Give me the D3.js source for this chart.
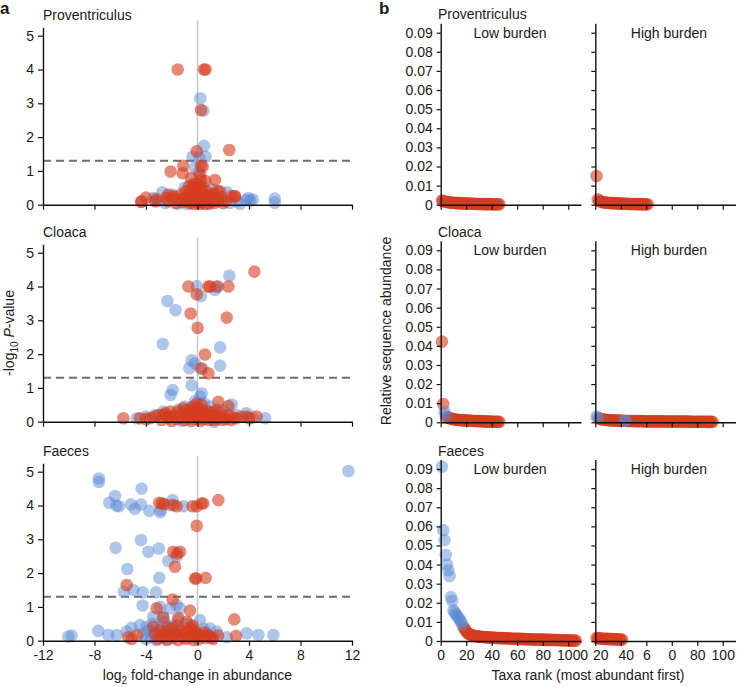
<!DOCTYPE html>
<html><head><meta charset="utf-8">
<script src="https://cdn.jsdelivr.net/npm/d3@7"></script>
<style>body{margin:0;background:#fff} text{font-family:"Liberation Sans",Arial,sans-serif;fill:#1a1a1a}</style>
</head><body><svg id="c" width="738" height="687"></svg>
<script>
// ---------- DATA ----------
const tissues = ["Proventriculus", "Cloaca", "Faeces"];
const volcanoXTicks = [-12, -8, -4, 0, 4, 8, 12];
const volcanoYTicks = [0, 1, 2, 3, 4, 5];
const sigThreshold = 1.3;

// [log2 fold-change, -log10 P]
const provBlue = [[0.22,3.15],[0.45,2.78],[0.5,1.74],[-0.38,1.42],[0.63,1.42],[0.14,1.40],[-0.19,1.08],[0.1,0.95],[-0.3,0.6],[0.4,0.55],
  [-2.73,0.37],[2.3,0.37],[-3.43,0.2],[-3.1,0.1],[3.8,0.14],[3.95,0.2],[4.1,0.12],[4.3,0.15],[3.3,0.03],[3.04,0.1],[6.0,0.18],[6.0,0.06],
  [-1.5,0.03],[-2.0,0.3],[1.9,0.25],[1.2,0.45],[-1.0,0.5],[-0.8,0.02],[0.9,0.02],[2.5,0.05],[-2.5,0.05]];
const provRed = [[-1.54,4.0],[0.5,4.0],[0.63,4.0],[0.27,2.8],[2.47,1.62],[-0.06,1.58],[0.27,1.15],[-1.1,1.15],[0.4,1.12],[-2.09,0.98],
  [-1.15,0.93],[0.19,0.88],[-0.5,0.78],[1.36,0.73],[0.27,0.73],[0.6,0.7],
  [-4.33,0.1],[-4.0,0.21],[-4.37,0.08],[-3.2,0.17],[-3.3,0.1],[-2.3,0.1],[-1.93,0.2],[-2.4,0.2],[-2.3,0.29],
  [2.65,0.25],[2.91,0.25],[1.75,0.4],[2.9,0.25],[1.55,0.4],[2.2,0.1],
  [-1.7,0.05],[-1.5,0.15],[-1.3,0.3],[-1.2,0.08],[-1.0,0.2],[-0.9,0.4],[-0.8,0.1],[-0.7,0.28],[-0.6,0.05],[-0.5,0.45],[-0.45,0.18],
  [-0.35,0.32],[-0.3,0.02],[-0.2,0.12],[-0.15,0.5],[-0.1,0.25],[0,0.05],[0,0.38],[0.05,0.6],[0.1,0.15],[0.15,0.3],[0.2,0.02],[0.25,0.45],
  [0.3,0.2],[0.35,0.08],[0.4,0.35],[0.5,0.12],[0.55,0.25],[0.6,0.02],[0.7,0.4],[0.75,0.15],[0.85,0.28],[0.9,0.05],[1.0,0.2],[1.1,0.1],
  [1.2,0.32],[1.3,0.05],[1.45,0.18],[1.6,0.1],[1.8,0.22],[2.0,0.05],[-1.8,0.25],[-0.25,0.6],[0.3,0.52],[-0.65,0.55]];
const cloacaBlue = [[2.47,4.32],[-0.06,4.01],[0.27,3.72],[1.36,3.9],[1.62,4.0],[-2.34,3.57],[-1.7,3.3],[-2.7,2.3],[1.75,2.2],[-0.45,1.82],
  [-0.19,1.73],[-0.63,1.58],[1.75,1.66],[0.37,1.56],[-0.45,1.08],[-1.93,0.94],[-2.09,0.79],[0.32,0.84],[0.19,0.74],[2.66,0.51],[-0.2,0.6],
  [0.5,0.55],[-1.0,0.45],[1.0,0.45],[-4.73,0.1],[-3.3,0.2],[-2.66,0.3],[5.25,0.1],[3.82,0.25],[4.3,0.12],[-4.0,0.15],[3.0,0.2],[-1.5,0.35],
  [0.9,0.3],[-0.5,0.4],[2.0,0.35],[-1.2,0.02],[1.3,0.0]];
const cloacaRed = [[4.42,4.44],[-0.71,4.0],[-0.06,3.77],[0.84,4.0],[0.97,4.0],[1.49,4.0],[2.4,4.0],[-0.53,3.2],[2.27,3.08],[0.01,2.78],
  [0.58,1.99],[0.27,1.58],[0.84,1.43],[1.62,0.59],[2.4,0.46],[-0.06,0.54],
  [-5.76,0.1],[-4.47,0.1],[-3.69,0.1],[-2.6,0.2],[-4.0,0.08],[-3.3,0.15],[4.6,0.15],[3.82,0.15],[3.43,0.15],[3.0,0.1],[4.0,0.1],
  [-3.0,0.2],[-2.8,0.05],[-2.5,0.25],[-2.3,0.1],[-2.1,0.3],[-2.0,0.02],[-1.8,0.18],[-1.6,0.08],[-1.5,0.3],[-1.3,0.12],[-1.2,0.25],
  [-1.0,0.05],[-0.9,0.2],[-0.8,0.35],[-0.7,0.1],[-0.6,0.28],[-0.5,0.02],[-0.4,0.15],[-0.3,0.3],[-0.2,0.08],[-0.1,0.22],[0,0.4],[0.05,0.1],
  [0.15,0.3],[0.2,0.02],[0.3,0.18],[0.4,0.35],[0.5,0.08],[0.6,0.25],[0.7,0.12],[0.8,0.3],[0.9,0.05],[1.0,0.2],[1.1,0.1],[1.2,0.28],
  [1.3,0.05],[1.4,0.18],[1.6,0.1],[1.7,0.25],[1.9,0.05],[2.0,0.15],[2.2,0.08],[2.4,0.2],[2.6,0.05],[2.8,0.12],[-1.1,0.4],[0.3,0.5],
  [-0.35,0.45],[1.5,0.35],[-2.2,0.15]];
const faecesBlue = [[11.72,5.02],[-7.66,4.8],[-7.66,4.7],[-4.34,4.5],[-6.41,4.28],[-6.85,4.08],[-6.1,3.98],[-6.3,4.0],[-5.17,4.03],[-4.86,3.9],
  [-4.39,4.03],[-3.74,3.84],[-2.91,3.8],[-2.85,3.87],[-1.93,4.16],[-2.14,4.01],[-1.1,3.98],[-6.36,2.75],[-4.39,2.98],[-3.82,2.63],
  [-3.0,2.73],[-2.27,2.36],[-1.62,2.49],[-5.45,2.12],[-2.97,1.86],[-5.71,1.45],[-4.99,1.5],[-4.26,1.43],[-3.22,1.43],[-4.26,1.04],
  [-2.91,1.0],[-2.14,0.96],[-1.62,1.06],[-1.36,0.96],[0.19,0.61],[-2.66,0.71],[-3.43,0.71],
  [-10.04,0.12],[-9.78,0.15],[-7.7,0.29],[-6.93,0.17],[-6.28,0.17],[-5.5,0.27],[-5.12,0.38],[-4.47,0.46],[-3.95,0.41],[3.82,0.22],
  [4.73,0.17],[5.89,0.17],[0.97,0.36],[1.49,0.27],[2.27,0.1],
  [-4.2,0.2],[-4.0,0.05],[-3.8,0.3],[-3.6,0.1],[-3.5,0.5],[-3.3,0.25],[-3.2,0.02],[-3.0,0.4],[-2.8,0.15],[-2.6,0.55],[-2.5,0.3],
  [-2.3,0.05],[-2.0,0.45],[-1.8,0.2],[-1.5,0.6],[-1.2,0.35],[-1.0,0.1],[-0.7,0.5],[-0.4,0.3],[0.5,0.35],[0.8,0.15],[1.2,0.1]];
const faecesRed = [[-2.97,4.08],[-2.6,4.04],[-2.75,4.06],[-1.88,4.01],[-1.62,3.98],[-0.38,3.98],[-0.06,3.98],[0.32,4.06],[0.45,4.06],
  [1.62,4.16],[-0.06,3.4],[-1.88,2.63],[-1.36,2.63],[-1.57,2.58],[-1.75,2.19],[-0.19,1.84],[0.63,1.86],[-0.1,1.84],[-5.5,1.65],
  [-1.93,1.22],[-3.17,0.96],[-0.58,0.89],[-1.49,0.68],[-2.66,0.68],[-0.84,0.56],[-0.38,0.44],[2.86,0.63],[2.99,0.14],
  [-5.38,0.1],[-4.68,0.17],[-3.43,0.41],[-5.1,0.05],[1.6,0.15],
  [-3.3,0.2],[-3.1,0.05],[-2.9,0.3],[-2.7,0.1],[-2.5,0.25],[-2.4,0.02],[-2.2,0.15],[-2.0,0.35],[-1.9,0.08],[-1.7,0.2],[-1.5,0.02],
  [-1.4,0.3],[-1.2,0.12],[-1.0,0.22],[-0.9,0.05],[-0.7,0.3],[-0.6,0.1],[-0.4,0.2],[-0.3,0.02],[-0.2,0.28],[-0.1,0.12],[0,0.2],
  [0.1,0.05],[0.3,0.15],[0.5,0.25],[0.6,0.08],[0.8,0.18],[1.0,0.1],[1.2,0.05],[-1.6,0.45],[-2.3,0.4],[-0.5,0.4]];

// Rank-abundance (values listed by rank 1..N)
const rankXTicks = [0, 20, 40, 60, 80, 100, 112];
const rankXLabelsLow = ["0", "20", "40", "60", "80", "100", "0"];
const rankXTicksHigh = [0, 20, 40, 60, 80, 100];
const rankXLabelsHigh = ["20", "40", "6", "0", "80", "100"];
const abundanceTicks = [0, 0.01, 0.02, 0.03, 0.04, 0.05, 0.06, 0.07, 0.08, 0.09];
const burdenGroups = ["Low burden", "High burden"];

const provLow = [0.0022,0.0019,0.0017,0.0015,0.0014,0.0013,0.0012,0.0011,0.0010,0.0010,0.0009,0.0009,0.0008,0.0008,0.0008,0.0007,
  0.0007,0.0007,0.0006,0.0006,0.0006,0.0006,0.0005,0.0005,0.0005,0.0005,0.0005,0.0004,0.0004,0.0004,0.0004,0.0004,0.0004,0.0003,
  0.0003,0.0003,0.0003,0.0003,0.0003,0.0003,0.0002,0.0002,0.0002,0.0002,0.0002,0.0002];
const provLowBlue = [];
const provHigh = [0.0150,0.0028,0.0021,0.0017,0.0015,0.0013,0.0012,0.0011,0.0010,0.0010,0.0009,0.0009,0.0008,0.0008,0.0008,0.0007,
  0.0007,0.0007,0.0006,0.0006,0.0006,0.0005,0.0005,0.0005,0.0005,0.0004,0.0004,0.0004,0.0004,0.0004,0.0003,0.0003,0.0003,0.0003,
  0.0003,0.0003,0.0002,0.0002,0.0002,0.0002,0.0002];
const provHighBlue = [];
const cloacaLow = [0.0422,0.0096,0.0055,0.0035,0.0028,0.0024,0.0021,0.0019,0.0017,0.0016,0.0015,0.0014,0.0013,0.0012,0.0012,0.0011,
  0.0011,0.0010,0.0010,0.0009,0.0009,0.0009,0.0008,0.0008,0.0008,0.0007,0.0007,0.0007,0.0006,0.0006,0.0006,0.0006,0.0005,0.0005,
  0.0005,0.0005,0.0004,0.0004,0.0004,0.0004,0.0003,0.0003,0.0003,0.0003,0.0002,0.0002];
const cloacaLowBlue = [3, 4];
const cloacaHigh = [0.0030,0.0025,0.0020,0.0018,0.0016,0.0015,0.0014,0.0013,0.0012,0.0012,
  0.0011,0.0011,0.0010,0.0010,0.0010,0.0009,0.0009,0.0009,0.0009,0.0008,0.0008,0.0008,0.0008,0.0008,0.0007,0.0007,0.0007,0.0007,0.0007,0.0007,
  0.0006,0.0006,0.0006,0.0006,0.0006,0.0006,0.0006,0.0006,0.0005,0.0005,0.0005,0.0005,0.0005,0.0005,0.0005,0.0005,0.0005,0.0005,0.0005,0.0005,
  0.0005,0.0005,0.0005,0.0005,0.0004,0.0004,0.0004,0.0004,0.0004,0.0004,0.0004,0.0004,0.0004,0.0004,0.0004,0.0004,0.0004,0.0004,0.0004,0.0004,
  0.0004,0.0004,0.0004,0.0004,0.0003,0.0003,0.0003,0.0003,0.0003,0.0003,0.0003,0.0003,0.0003,0.0003,0.0003,0.0003,0.0002,0.0002,0.0002,0.0002,
  0.0002,0.0002];
const cloacaHighBlue = [1, 2, 23, 24];
const faecesLow = [0.0912,0.0580,0.0528,0.0450,0.0400,0.0370,0.0340,0.0230,0.0210,0.0160,0.0150,0.0140,0.0130,0.0120,0.0110,0.0100,0.0085,
  0.0072,0.0060,0.0050,0.0043,0.0038,0.0034,0.0031,0.0029,0.0027,0.0026,0.0025,0.0024,0.0023,
  0.0022,0.0022,0.0021,0.0021,0.0020,0.0020,0.0019,0.0019,0.0018,0.0018,0.0017,0.0017,0.0017,0.0016,0.0016,0.0016,0.0015,0.0015,0.0015,0.0014,
  0.0014,0.0014,0.0013,0.0013,0.0013,0.0012,0.0012,0.0012,0.0012,0.0011,0.0011,0.0011,0.0011,0.0010,0.0010,0.0010,0.0010,0.0009,0.0009,0.0009,
  0.0009,0.0008,0.0008,0.0008,0.0008,0.0008,0.0007,0.0007,0.0007,0.0007,0.0007,0.0006,0.0006,0.0006,0.0006,0.0006,0.0006,0.0005,0.0005,0.0005,
  0.0005,0.0005,0.0005,0.0004,0.0004,0.0004,0.0004,0.0004,0.0004,0.0003,0.0003,0.0003,0.0003,0.0003,0.0002,0.0002];
const faecesLowBlue = [1,2,3,4,5,6,7,8,9,10,11,12,13,14,15,16,17];
const faecesHigh = [0.0016,0.0015,0.0014,0.0013,0.0013,0.0012,0.0012,0.0011,0.0011,0.0011,0.0010,0.0010,0.0010,0.0009,0.0009,0.0009,
  0.0009,0.0008,0.0008,0.0008,0.0008];
const faecesHighBlue = [];

// ---------- DRAWING ----------
const svg = d3.select("#c");
const BLUE = "rgb(88,136,214)", RED = "rgb(214,60,30)";
const BLUE_OP = 0.48, RED_OP = 0.6, R = 6.3;
const FS = 14;

const volcano = [
  {name: tissues[0], base: 204.7, blue: provBlue, red: provRed},
  {name: tissues[1], base: 421.7, blue: cloacaBlue, red: cloacaRed},
  {name: tissues[2], base: 640.7, blue: faecesBlue, red: faecesRed}
];
const rankPanels = [
  {name: tissues[0], base: 204.7, low: provLow, lowBlue: provLowBlue, high: provHigh, highBlue: provHighBlue},
  {name: tissues[1], base: 422.3, low: cloacaLow, lowBlue: cloacaLowBlue, high: cloacaHigh, highBlue: cloacaHighBlue},
  {name: tissues[2], base: 641.0, low: faecesLow, lowBlue: faecesLowBlue, high: faecesHigh, highBlue: faecesHighBlue}
];

const xA = d3.scaleLinear().domain([-12, 12]).range([43, 352]);
const yUnit = 33.8;

function styleAxis(g) {
  g.selectAll("path.domain").attr("stroke", "#111").attr("stroke-width", 1.4);
  g.selectAll(".tick line").attr("stroke", "#111").attr("stroke-width", 1.2);
  g.selectAll(".tick text").attr("font-size", FS).attr("fill", "#1a1a1a")
    .attr("font-family", '"Liberation Sans", Arial, sans-serif');
}

volcano.forEach((p, i) => {
  const y = d3.scaleLinear().domain([0, 5.25]).range([p.base, p.base - 5.25 * yUnit]);
  const g = svg.append("g");
  g.append("line").attr("x1", xA(0)).attr("x2", xA(0)).attr("y1", y(5.45)).attr("y2", y(0))
    .attr("stroke", "#c9c9c9").attr("stroke-width", 1.6);
  g.append("line").attr("x1", xA(-12)).attr("x2", xA(12)).attr("y1", y(sigThreshold)).attr("y2", y(sigThreshold))
    .attr("stroke", "#6e6e6e").attr("stroke-width", 2).attr("stroke-dasharray", "8,5");
  g.append("g").selectAll("circle").data(p.blue).join("circle")
    .attr("cx", d => xA(d[0])).attr("cy", d => y(d[1])).attr("r", R)
    .attr("fill", BLUE).attr("fill-opacity", BLUE_OP);
  g.append("g").selectAll("circle").data(p.red).join("circle")
    .attr("cx", d => xA(d[0])).attr("cy", d => y(d[1])).attr("r", R)
    .attr("fill", RED).attr("fill-opacity", RED_OP);
  const ya = g.append("g").attr("transform", `translate(${xA(-12)},0)`)
    .call(d3.axisLeft(y).tickValues(volcanoYTicks).tickSize(5).tickPadding(4).tickSizeOuter(0).tickFormat(d => String(d)));
  styleAxis(ya);
  const xa = g.append("g").attr("transform", `translate(0,${p.base})`)
    .call(d3.axisBottom(xA).tickValues(volcanoXTicks).tickSize(5).tickPadding(4).tickSizeOuter(0)
      .tickFormat(d => i === 2 ? String(d) : ""));
  styleAxis(xa);
  g.append("text").attr("x", 43).attr("y", p.base - 184.5).attr("font-size", FS).text(p.name);
});

svg.append("text").attr("x", 0).attr("y", 14).attr("font-size", 17).attr("font-weight", "bold").text("a");
const axA = svg.append("text").attr("font-size", FS).attr("text-anchor", "middle")
  .attr("transform", "translate(14,333) rotate(-90)");
axA.append("tspan").text("-log");
axA.append("tspan").attr("font-size", 10).attr("dy", 4).text("10");
axA.append("tspan").attr("dy", -4).text(" ");
axA.append("tspan").attr("font-style", "italic").text("P");
axA.append("tspan").text("-value");
const xt = svg.append("text").attr("x", xA(0)).attr("y", 680).attr("font-size", FS).attr("text-anchor", "middle");
xt.append("tspan").text("log");
xt.append("tspan").attr("font-size", 10).attr("dy", 4).text("2");
xt.append("tspan").attr("dy", -4).text(" fold-change in abundance");

const xLow = d3.scaleLinear().domain([0, 110]).range([440.7, 581]);
const xHigh = d3.scaleLinear().domain([0, 110]).range([595.3, 735.5]);
const bUnit = 1911;
rankPanels.forEach((p, i) => {
  const y = d3.scaleLinear().domain([0, 0.095]).range([p.base, p.base - 0.095 * bUnit]);
  const g = svg.append("g");
  [[p.low, p.lowBlue, xLow], [p.high, p.highBlue, xHigh]].forEach(([vals, blueRanks, xs]) => {
    const pts = vals.map((v, k) => ({rank: k + 1, v, blue: blueRanks.includes(k + 1)}));
    g.append("g").selectAll("circle").data(pts.filter(d => !d.blue)).join("circle")
      .attr("cx", d => xs(d.rank)).attr("cy", d => y(d.v)).attr("r", R)
      .attr("fill", RED).attr("fill-opacity", RED_OP);
    g.append("g").selectAll("circle").data(pts.filter(d => d.blue)).join("circle")
      .attr("cx", d => xs(d.rank)).attr("cy", d => y(d.v)).attr("r", R)
      .attr("fill", BLUE).attr("fill-opacity", BLUE_OP);
  });
  const yl = g.append("g").attr("transform", `translate(${xLow(0)},0)`)
    .call(d3.axisLeft(y).tickValues(abundanceTicks).tickSize(4).tickPadding(4).tickSizeOuter(0)
      .tickFormat(d => d === 0 ? "0" : d.toFixed(2)));
  styleAxis(yl);
  const yr = g.append("g").attr("transform", `translate(${xHigh(0)},0)`)
    .call(d3.axisLeft(y).tickValues(abundanceTicks).tickSize(4).tickSizeOuter(0).tickFormat(""));
  styleAxis(yr);
  const xl = g.append("g").attr("transform", `translate(0,${p.base})`)
    .call(d3.axisBottom(xLow).tickValues(rankXTicks).tickSize(5).tickPadding(4).tickSizeOuter(0)
      .tickFormat((d, k) => i === 2 ? rankXLabelsLow[k] : ""));
  styleAxis(xl);
  xl.selectAll(".tick").filter(d => d === 112).select("line").remove();
  const xh = g.append("g").attr("transform", `translate(0,${p.base})`)
    .call(d3.axisBottom(xHigh).tickValues(rankXTicksHigh).tickSize(5).tickPadding(4).tickSizeOuter(0)
      .tickFormat((d, k) => i === 2 ? rankXLabelsHigh[k] : ""));
  styleAxis(xh);
  xh.selectAll(".tick text").filter(d => d <= 20).attr("dx", 5);
  g.append("text").attr("x", 438).attr("y", p.base - 185.5).attr("font-size", FS).text(p.name);
  g.append("text").attr("x", 510).attr("y", p.base - 167).attr("font-size", FS).attr("text-anchor", "middle").text(burdenGroups[0]);
  g.append("text").attr("x", 669).attr("y", p.base - 167).attr("font-size", FS).attr("text-anchor", "middle").text(burdenGroups[1]);
});
svg.append("text").attr("x", 379).attr("y", 14).attr("font-size", 17).attr("font-weight", "bold").text("b");
svg.append("text").attr("font-size", FS).attr("text-anchor", "middle")
  .attr("transform", "translate(391,331) rotate(-90)").text("Relative sequence abundance");
svg.append("text").attr("x", 588).attr("y", 680).attr("font-size", FS).attr("text-anchor", "middle")
  .text("Taxa rank (most abundant first)");
</script>
</body></html>
